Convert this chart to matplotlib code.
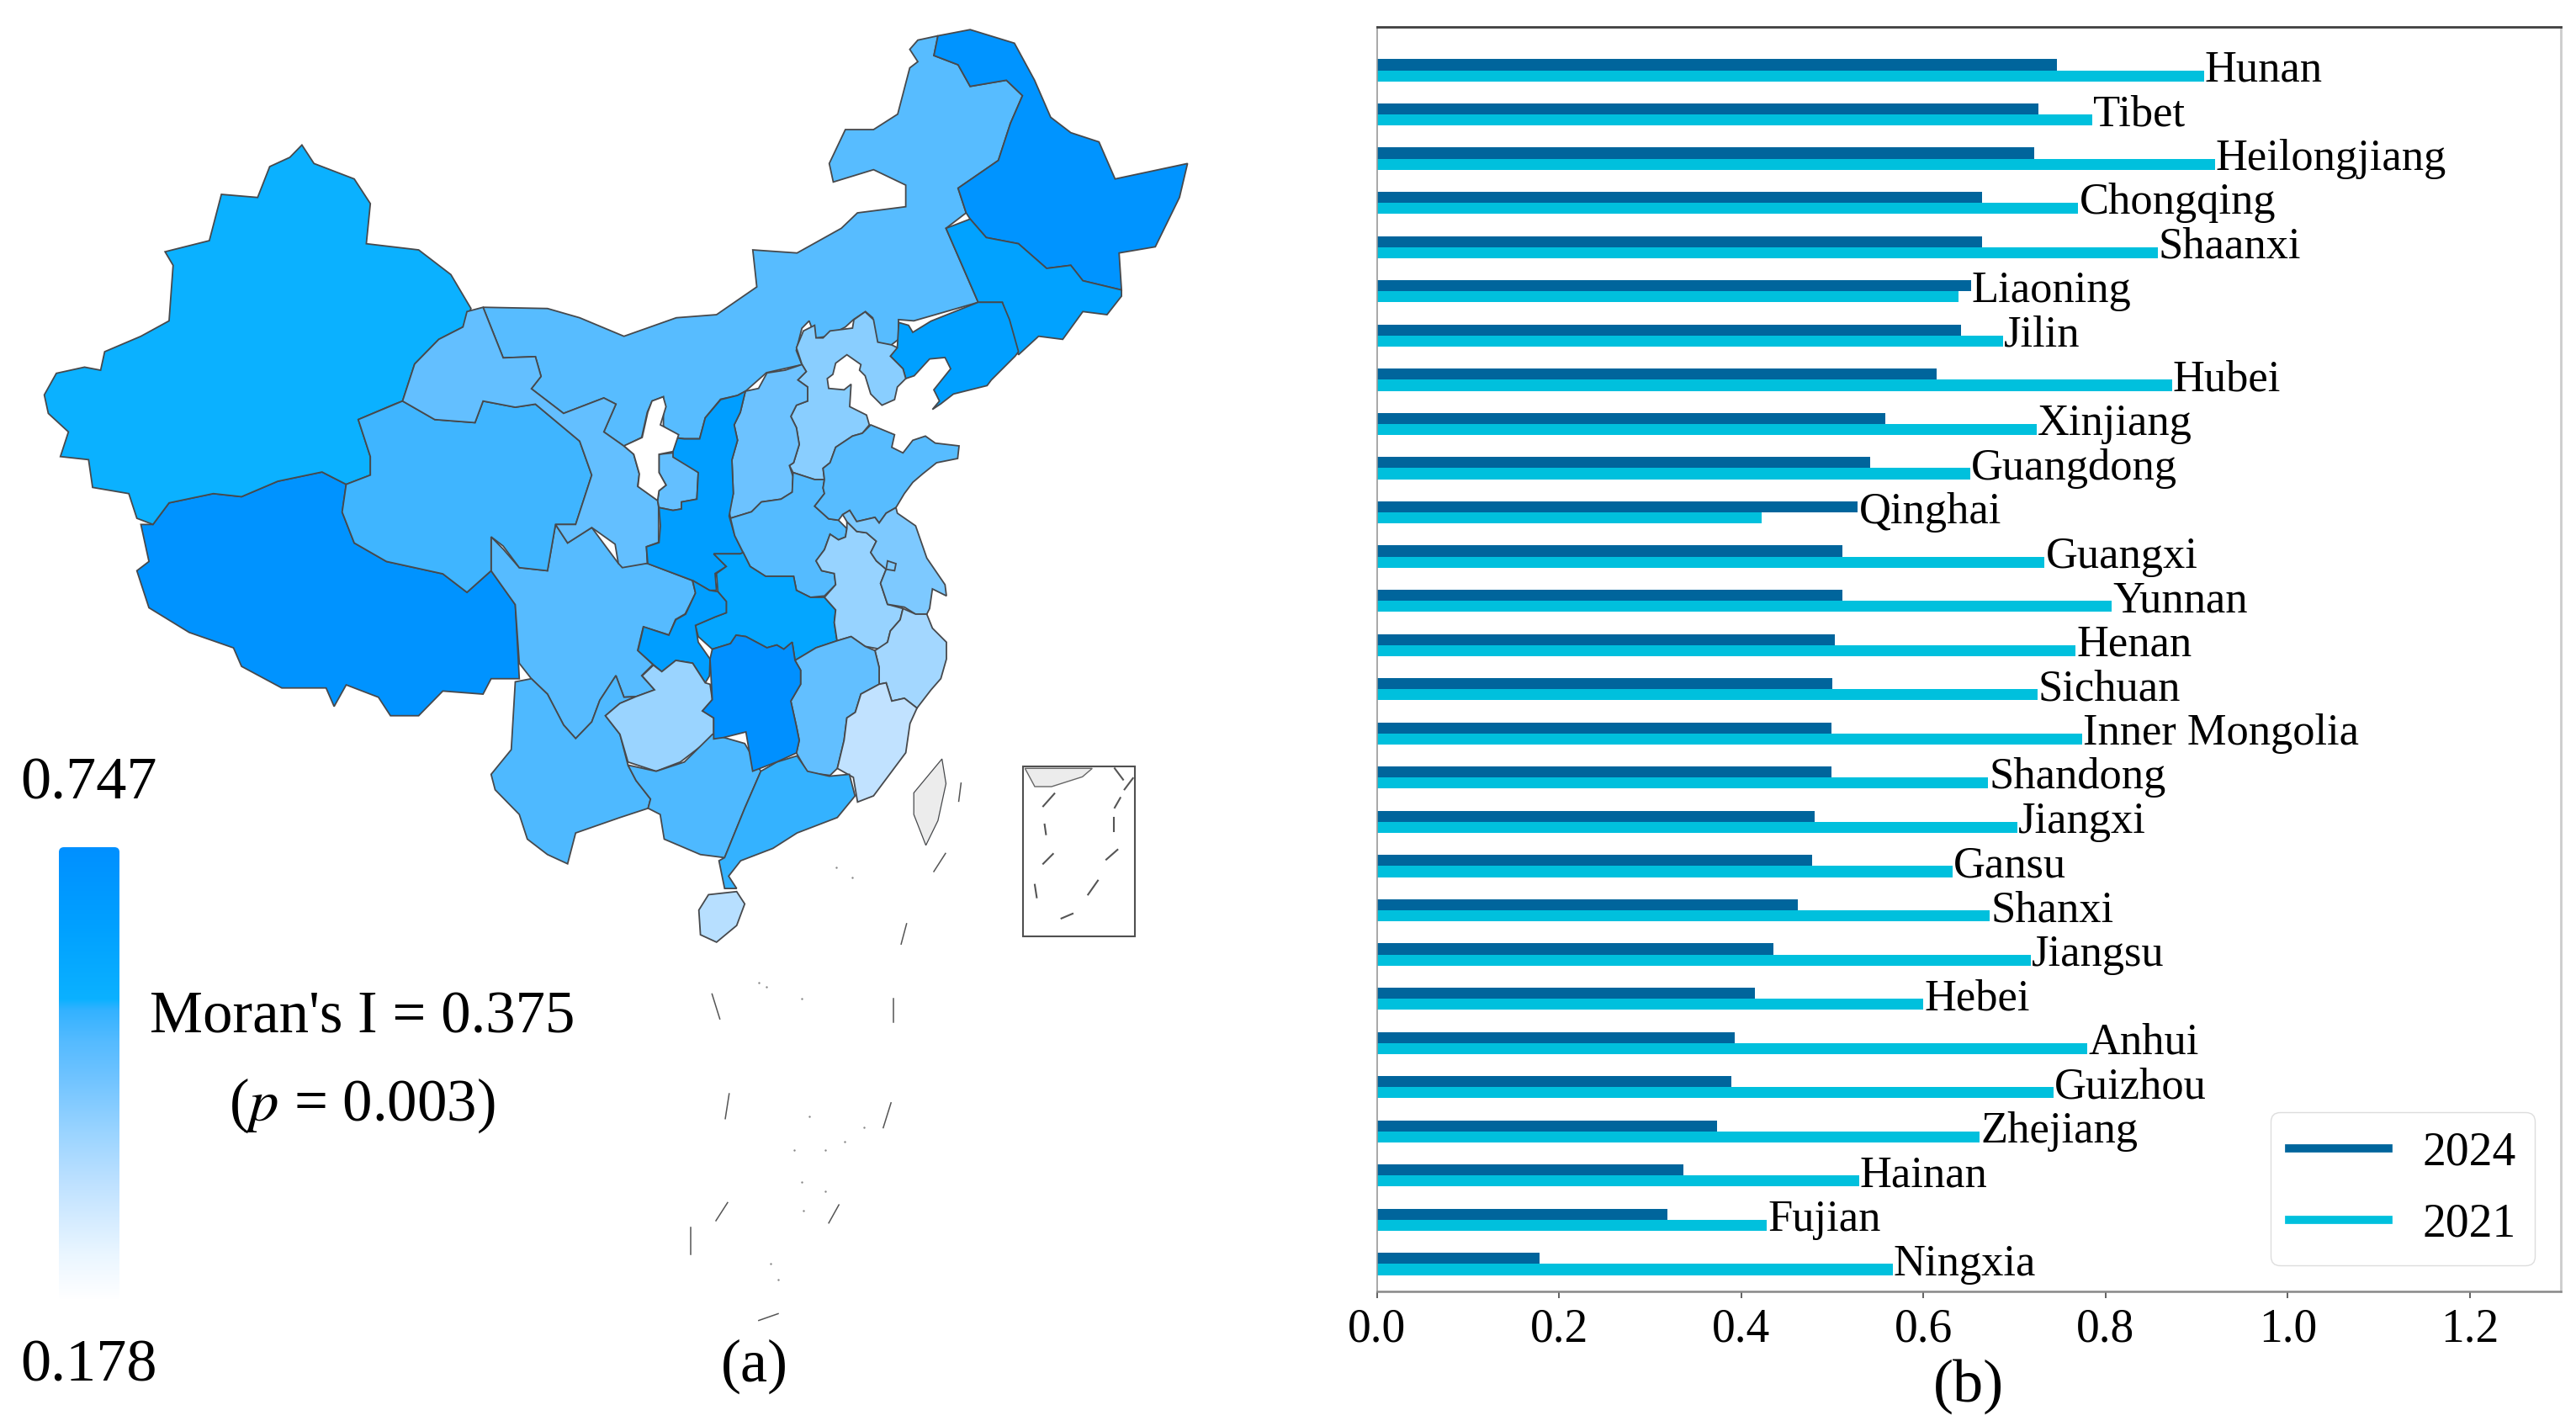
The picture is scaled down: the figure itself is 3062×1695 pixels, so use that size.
import matplotlib
matplotlib.use("Agg")
import matplotlib.pyplot as plt
import numpy as np
from matplotlib.colors import LinearSegmentedColormap, Normalize
from matplotlib.lines import Line2D
from matplotlib.patches import FancyBboxPatch

plt.rcParams['font.family'] = ['Liberation Serif', 'DejaVu Serif']
plt.rcParams['mathtext.fontset'] = 'stix'

W, H = 3062, 1695

# ---- chart data -------------------------------------------------------------
provinces = ["Hunan", "Tibet", "Heilongjiang", "Chongqing", "Shaanxi", "Liaoning", "Jilin",
             "Hubei", "Xinjiang", "Guangdong", "Qinghai", "Guangxi", "Yunnan", "Henan",
             "Sichuan", "Inner Mongolia", "Shandong", "Jiangxi", "Gansu", "Shanxi",
             "Jiangsu", "Hebei", "Anhui", "Guizhou", "Zhejiang", "Hainan", "Fujian", "Ningxia"]
values_2024 = [0.747, 0.726, 0.722, 0.664, 0.664, 0.652, 0.641, 0.614, 0.558, 0.541, 0.528, 0.511,
               0.511, 0.503, 0.500, 0.499, 0.499, 0.480, 0.478, 0.462, 0.435, 0.415, 0.393, 0.389,
               0.373, 0.336, 0.319, 0.178]
values_2021 = [0.908, 0.785, 0.920, 0.770, 0.857, 0.638, 0.687, 0.873, 0.724, 0.651, 0.422, 0.733,
               0.807, 0.767, 0.725, 0.774, 0.671, 0.703, 0.632, 0.673, 0.718, 0.600, 0.780, 0.743,
               0.662, 0.529, 0.428, 0.566]
xticks = [0.0, 0.2, 0.4, 0.6, 0.8, 1.0, 1.2]
cbar_min, cbar_max = 0.178, 0.747
cbar_stops = [(0.0, "#ffffff"), (0.10, "#eaf6ff"), (0.25, "#c0e2ff"), (0.37, "#9ad4ff"),
              (0.50, "#6cc2ff"), (0.57, "#55bbff"), (0.64, "#33b2ff"), (0.665, "#0bb1ff"),
              (0.83, "#00a0ff"), (1.0, "#0090ff")]

# ---- map outlines (two reading scales) --------------------------------------
def z1(pts):
    return [(0.957 * x, 0.7334 * y) for x, y in pts]
def z5(pts):
    return [(720 + x / 3, 380 + y / 3) for x, y in pts]
def z2(pts):
    return [(0.925 * x, 850 + 0.539 * y) for x, y in pts]
def z8(pts):
    return [(1180 + x / 3, 880 + y / 3) for x, y in pts]

xinjiang = z1([(375,235),(390,265),(440,290),(460,330),(455,395),(520,405),(560,445),(585,500),(575,530),(545,550),(515,590),(500,650),(490,655),(445,680),(460,740),(460,770),(430,785),(400,765),(345,780),(300,805),(265,800),(210,815),(190,850),(170,840),(160,800),(115,790),(110,745),(75,740),(85,700),(60,670),(55,640),(70,605),(105,595),(125,600),(130,570),(175,545),(210,520),(215,430),(205,408),(260,390),(275,315),(320,320),(335,270),(360,255)])
tibet = z1([(210,815),(265,800),(300,805),(345,780),(400,765),(430,785),(425,830),(440,880),(480,910),(550,930),(580,960),(610,925),(640,980),(645,1100),(610,1100),(600,1125),(550,1120),(520,1160),(485,1160),(470,1130),(430,1110),(415,1145),(405,1115),(350,1115),(300,1080),(290,1050),(235,1025),(185,985),(170,925),(185,910),(175,850),(190,850)])
qinghai = z1([(445,680),(500,650),(540,680),(590,685),(600,650),(640,660),(665,655),(720,715),(735,770),(720,830),(715,850),(690,850),(680,925),(645,920),(625,885),(610,870),(610,925),(580,960),(550,930),(480,910),(440,880),(425,830),(430,785),(460,770),(460,740)])
gansu = z1([(580,505),(600,498),(625,580),(665,578),(672,610),(660,630),(700,670),(750,645),(765,655),(750,700),(775,723),(787,736),(794,768),(792,788),(817,811),(818,822),(818,879),(803,886),(804,913),(773,920),(768,913),(764,882),(735,855),(705,880),(690,850),(715,850),(720,830),(735,770),(720,715),(665,655),(640,660),(600,650),(590,685),(540,680),(500,650),(515,590),(545,550),(575,530)])
gansu_east = z5([(240,475),(330,545),(325,640),(270,650),(270,675),(240,680),(190,670),(185,645),(190,610),(215,590),(190,545),(190,480)])
inner_mongolia = z1([(1140,65),(1165,58),(1160,90),(1190,105),(1205,140),(1250,130),(1270,155),(1255,200),(1240,260),(1190,305),(1200,345),(1175,370),(1195,430),(1215,490),(1135,520),(1116,518),(1116,550),(1107,559),(1088,557),(1084,515),(1075,505),(1060,518),(1050,530),(1028,545),(1013,548),(1005,520),(996,532),(989,568),(996,591),(952,604),(926,634),(916,641),(895,647),(876,677),(869,711),(850,711),(836,709),(824,690),(824,643),(810,650),(804,668),(797,709),(775,723),(750,700),(765,655),(750,645),(700,670),(660,630),(672,610),(665,578),(625,580),(600,498),(680,500),(720,515),(775,545),(840,515),(890,510),(940,465),(935,405),(990,410),(1045,370),(1065,345),(1125,335),(1125,300),(1085,275),(1035,295),(1030,265),(1050,210),(1085,210),(1115,185),(1130,110),(1140,100),(1130,80)])
heilongjiang = z1([(1165,58),(1205,48),(1260,70),(1285,130),(1305,190),(1330,215),(1365,230),(1385,290),(1475,265),(1465,320),(1435,400),(1390,410),(1393,470),(1345,455),(1330,430),(1300,435),(1265,395),(1225,385),(1205,355),(1200,345),(1190,305),(1240,260),(1255,200),(1270,155),(1250,130),(1205,140),(1190,105),(1160,90)])
jilin = z1([(1175,370),(1205,355),(1225,385),(1265,395),(1300,435),(1330,430),(1345,455),(1393,470),(1393,480),(1375,510),(1345,505),(1320,550),(1290,545),(1265,575),(1245,490),(1215,490),(1195,430)])
liaoning = z5([(1070,210),(1060,175),(1015,130),(1040,95),(1045,10),(1080,20),(1095,45),(1160,5),(1328,-62),(1414,-62),(1440,0),(1472,114),(1460,130),(1375,215),(1360,235),(1240,265),(1195,300),(1165,320),(1190,290),(1170,250),(1230,175),(1210,135),(1155,140),(1100,200)])
hebei = z5([(680,100),(705,40),(745,20),(750,65),(775,65),(800,40),(880,30),(885,0),(925,-28),(955,0),(970,80),(1020,90),(1040,100),(1015,130),(1060,175),(1070,210),(1040,240),(1030,285),(985,305),(945,265),(925,200),(905,180),(910,160),(860,125),(820,155),(810,195),(790,210),(795,245),(850,250),(875,230),(870,310),(930,340),(940,375),(915,405),(880,415),(820,455),(800,510),(775,530),(780,570),(745,570),(668,545),(655,520),(670,510),(690,445),(680,385),(660,345),(680,305),(720,290),(720,240),(685,215),(715,185),(700,160)])
shanxi = z5([(498,255),(545,245),(575,190),(640,180),(700,160),(715,185),(685,215),(720,240),(720,290),(680,305),(660,345),(680,385),(690,445),(670,510),(655,520),(668,560),(665,615),(625,640),(555,650),(520,685),(445,708),(440,680),(455,620),(450,500),(470,430),(458,375),(480,330)])
shaanxi = z5([(498,255),(480,330),(458,375),(470,430),(450,500),(455,620),(440,700),(460,770),(490,830),(480,835),(385,835),(430,880),(390,905),(395,965),(370,965),(310,930),(230,900),(150,870),(145,810),(190,795),(195,735),(190,670),(240,680),(270,675),(270,650),(325,640),(330,545),(240,490),(240,420),(280,425),(335,425),(355,350),(410,285),(470,270)])
ningxia = z5([(205,275),(215,310),(195,375),(260,410),(240,470),(190,480),(190,545),(215,590),(190,610),(185,645),(115,595),(120,550),(100,480),(65,450),(130,420),(150,330),(165,290)])
shandong = z5([(945,375),(1030,410),(1020,455),(1060,475),(1095,430),(1140,415),(1175,440),(1260,450),(1255,495),(1180,510),(1130,550),(1095,580),(1065,620),(1035,670),(1000,690),(975,725),(960,705),(895,720),(870,680),(845,695),(830,715),(795,710),(745,665),(780,620),(775,600),(780,570),(775,530),(800,510),(820,455),(880,415),(915,405)])
henan = z5([(668,545),(745,570),(780,570),(775,600),(780,620),(745,665),(795,710),(830,715),(860,745),(855,775),(830,785),(800,765),(780,820),(750,860),(770,895),(815,905),(820,945),(780,985),(730,990),(680,965),(670,915),(570,915),(515,880),(490,830),(460,770),(445,708),(520,685),(555,650),(625,640),(665,615)])
hubei = z5([(385,835),(480,835),(490,830),(515,880),(570,915),(670,915),(680,965),(730,990),(780,990),(820,1035),(815,1080),(825,1145),(750,1170),(675,1215),(665,1150),(635,1175),(610,1160),(575,1170),(500,1130),(465,1125),(445,1155),(380,1175),(330,1130),(320,1090),(390,1060),(430,1045),(430,1005),(400,970),(395,905),(430,880)])
chongqing = z5([(310,930),(320,975),(285,1050),(250,1070),(225,1125),(135,1095),(115,1180),(170,1230),(200,1255),(250,1215),(310,1225),(355,1295),(370,1270),(372,1210),(330,1150),(320,1090),(390,1060),(430,1045),(430,1005),(400,970),(370,965)])
jiangsu = z5([(845,695),(870,680),(895,720),(960,705),(975,725),(1000,690),(1035,670),(1040,690),(1105,735),(1145,850),(1210,945),(1215,985),(1165,960),(1155,1030),(1145,1050),(1105,1050),(1065,1025),(1005,1015),(980,940),(1000,890),(965,860),(945,830),(965,790),(930,760),(895,755),(860,720)])
jiangsu_loop = z5([(1005,860),(1035,870),(1030,895),(1000,890)])
anhui = z5([(860,720),(895,755),(930,760),(965,790),(945,830),(965,860),(1000,890),(980,940),(1005,1015),(1060,1030),(1050,1070),(1015,1110),(1005,1150),(980,1175),(925,1165),(875,1130),(825,1145),(815,1080),(820,1035),(780,990),(820,945),(815,905),(770,895),(750,860),(780,820),(800,765),(830,785),(855,775),(860,745)])
zhejiang = z5([(1060,1030),(1105,1050),(1145,1050),(1165,1100),(1215,1150),(1215,1210),(1195,1280),(1160,1320),(1110,1385),(1065,1350),(1020,1360),(1000,1295),(975,1300),(975,1240),(960,1180),(1005,1150),(1015,1110),(1050,1070)])
jiangxi = z5([(675,1215),(750,1170),(825,1145),(875,1130),(925,1165),(960,1180),(975,1240),(975,1300),(910,1335),(890,1400),(860,1420),(850,1500),(826,1600),(800,1625),(720,1615),(680,1545),(690,1500),(680,1450),(660,1360),(695,1300),(695,1250)])
fujian = z5([(975,1300),(1000,1295),(1020,1360),(1065,1350),(1110,1385),(1085,1440),(1070,1544),(955,1698),(898,1720),(883,1632),(826,1600),(850,1500),(860,1420),(890,1400),(910,1335)])
hunan = z5([(380,1175),(445,1155),(465,1125),(500,1130),(575,1170),(610,1160),(635,1175),(665,1150),(675,1215),(695,1250),(695,1300),(660,1360),(680,1450),(690,1500),(680,1545),(610,1577),(524,1610),(500,1470),(420,1490),(385,1495),(385,1420),(345,1395),(380,1355),(372,1210)])
guizhou = z5([(130,1270),(170,1232),(200,1255),(250,1215),(310,1225),(355,1295),(372,1300),(380,1355),(345,1395),(385,1420),(385,1495)]) + z1([(875,1205),(845,1235),(815,1250),(780,1235),(770,1190),(752,1160),(770,1140),(790,1129),(813,1118)])
guangxi = z1([(780,1240),(815,1250),(850,1235),(885,1190),(925,1205),(945,1250),(925,1310),(900,1390),(870,1385),(825,1360),(820,1320),(805,1310),(808,1295),(790,1265)])
guangdong = z1([(945,1250),(965,1235),(990,1225),(1003,1250),(1030,1258),(1055,1255),(1062,1290),(1040,1325),(990,1350),(960,1375),(920,1395),(905,1420),(915,1440),(900,1440),(893,1395),(900,1390),(925,1310)])
hainan = z1([(880,1450),(915,1445),(925,1465),(915,1500),(890,1527),(870,1515),(868,1475)])
yunnan = z1([(640,1105),(660,1100),(680,1125),(700,1175),(715,1197),(735,1170),(745,1135),(765,1095),(775,1130),(790,1129),(770,1140),(752,1160),(770,1190),(780,1240),(790,1265),(808,1295),(805,1310),(770,1325),(715,1350),(705,1400),(680,1385),(655,1360),(645,1320),(615,1280),(610,1255),(635,1215)])
sichuan = z1([(610,870),(625,890),(645,920),(680,925),(690,850),(705,880),(735,855),(768,913),(804,913),(860,941),(864,961),(851,995),(839,1004),(831,1029),(799,1016),(792,1054),(811,1077),(797,1095),(813,1118),(790,1129),(775,1130),(765,1095),(745,1135),(735,1170),(715,1197),(700,1175),(680,1125),(660,1100),(645,1075),(640,980),(610,925)])

province_shapes = {
    "Tibet": [tibet], "Xinjiang": [xinjiang], "Sichuan": [sichuan], "Qinghai": [qinghai],
    "Inner Mongolia": [inner_mongolia], "Gansu": [gansu, gansu_east], "Heilongjiang": [heilongjiang],
    "Jilin": [jilin], "Liaoning": [liaoning], "Hebei": [hebei], "Shanxi": [shanxi], "Shaanxi": [shaanxi],
    "Henan": [henan], "Shandong": [shandong], "Hubei": [hubei], "Chongqing": [chongqing],
    "Anhui": [anhui], "Jiangsu": [jiangsu, jiangsu_loop], "Zhejiang": [zhejiang], "Jiangxi": [jiangxi],
    "Fujian": [fujian], "Yunnan": [yunnan], "Guizhou": [guizhou], "Guangxi": [guangxi],
    "Guangdong": [guangdong], "Hunan": [hunan], "Hainan": [hainan], "Ningxia": [ningxia],
}
taiwan = z1([(1170,1230),(1175,1270),(1165,1330),(1150,1370),(1135,1320),(1135,1285)])
sea_dashes = [z2(s) for s in [[(915,615),(925,670)], [(1148,625),(1148,678)], [(937,835),(932,890)],
              [(1145,855),(1135,910)], [(935,1075),(920,1115)], [(1078,1080),(1065,1120)],
              [(888,1130),(888,1190)], [(1000,1320),(975,1335)], [(1165,460),(1158,505)],
              [(1215,305),(1200,345)], [(1235,150),(1232,190)]]]
sea_dots = z2([(975,590),(985,600),(1030,625),(1040,885),(1020,960),(1060,960),(1085,940),(1110,910),
               (1030,1030),(1060,1050),(990,1210),(1000,1245),(1095,358),(1075,335),(1032,1092)])
inset_box = z8([(108,92),(508,92),(508,700),(108,700)])
inset_land = z8([(115,100),(355,100),(320,130),(210,165),(150,165)])
inset_dashes = [z8(s) for s in [[(180,235),(220,190)], [(185,300),(190,335)], [(180,440),(215,405)],
                [(150,515),(157,560)], [(245,635),(285,618)], [(340,550),(375,500)],
                [(405,425),(445,390)], [(432,275),(432,325)], [(435,240),(455,205)],
                [(470,175),(500,135)], [(435,100),(465,140)]]]

# ---- figure -------------------------------------------------------------------
fig = plt.figure(figsize=(W / 100, H / 100), dpi=100, facecolor='white')
bg = fig.add_axes([0, 0, 1, 1])
bg.set_xlim(0, W)
bg.set_ylim(H, 0)
bg.axis('off')

cmap = LinearSegmentedColormap.from_list("moran", cbar_stops, N=512)
norm = Normalize(cbar_min, cbar_max)
value_of = dict(zip(provinces, values_2024))

edge = "#47494c"
for name, parts in province_shapes.items():
    for part in parts:
        xs, ys = zip(*part)
        bg.fill(xs, ys, facecolor=cmap(norm(value_of[name])), edgecolor=edge, linewidth=1.3, zorder=2)

xs, ys = zip(*taiwan)
bg.fill(xs, ys, facecolor="#ececec", edgecolor=edge, linewidth=0.9, zorder=2)
for seg in sea_dashes:
    xs, ys = zip(*seg)
    bg.plot(xs, ys, color="#555555", lw=1.1, zorder=2)
xs, ys = zip(*sea_dots)
bg.scatter(xs, ys, s=3, color="#888888", linewidths=0, zorder=2)

xs, ys = zip(*inset_land)
bg.fill(xs, ys, facecolor="#ececec", edgecolor="#666666", linewidth=1.0, zorder=2)
xs, ys = zip(*inset_box)
bg.fill(xs, ys, facecolor='none', edgecolor="#505050", linewidth=1.5, zorder=3)
for seg in inset_dashes:
    xs, ys = zip(*seg)
    bg.plot(xs, ys, color="#555555", lw=1.5, zorder=3)

# colour bar
cb_left, cb_right, cb_top, cb_bottom = 70, 142, 1007, 1545
gradient = np.linspace(1, 0, 512).reshape(-1, 1)
im = bg.imshow(gradient, cmap=cmap, vmin=0, vmax=1, aspect='auto',
               extent=(cb_left, cb_right, cb_bottom, cb_top), zorder=2)
clip = FancyBboxPatch((cb_left + 6, cb_top + 6), cb_right - cb_left - 12, cb_bottom - cb_top - 12,
                      boxstyle="round,pad=6", transform=bg.transData, facecolor='none', edgecolor='none')
bg.add_patch(clip)
im.set_clip_path(clip)
bg.set_xlim(0, W)
bg.set_ylim(H, 0)

def label(x, y, s, size, ha='left'):
    bg.text(x, y, s, fontsize=size, ha=ha, va='baseline', color='black', zorder=5)

label(24, 950, f"{cbar_max:.3f}", 52)
label(24, 1642, f"{cbar_min:.3f}", 52)
label(178, 1227, "Moran's I = 0.375", 51)
label(430, 1332, "($\\mathit{p}$ = 0.003)", 51, ha='center')
label(897, 1642, "(a)", 52, ha='center')
label(2340, 1666, "(b)", 52, ha='center')

# ---- bar chart ------------------------------------------------------------------
ax = fig.add_axes([1637 / W, 1 - 1535 / H, (3044 - 1637) / W, (1535 - 32) / H], facecolor='none')
rows = np.arange(len(provinces))
bar_h = 0.25
color_2024, color_2021 = "#00659c", "#00c0dd"
ax.barh(rows - bar_h / 2, values_2024, height=bar_h, color=color_2024)
ax.barh(rows + bar_h / 2, values_2021, height=bar_h, color=color_2021)
for r, name, a, b in zip(rows, provinces, values_2024, values_2021):
    ax.text(max(a, b) + 0.001, r + 0.25, name, fontsize=37.8, ha='left', va='baseline', color='black')

ax.set_xlim(0, 1.30)
ax.set_ylim(27.62, -0.98)
ax.set_yticks([])
ax.set_xticks(xticks)
ax.set_xticklabels([f"{t:.1f}" for t in xticks], fontsize=40)
ax.tick_params(axis='x', length=6, width=1.3, color='#555555', pad=8)
ax.spines['top'].set(color='#404040', linewidth=2.0)
ax.spines['left'].set(color='#999999', linewidth=1.2)
ax.spines['right'].set(color='#cccccc', linewidth=2.0)
ax.spines['bottom'].set(color='#888888', linewidth=1.8)

handles = [Line2D([], [], color=color_2024, lw=7), Line2D([], [], color=color_2021, lw=7)]
leg = ax.legend(handles, ["2024", "2021"], fontsize=40, loc='lower right',
                bbox_to_anchor=((3013 - 1637) / (3044 - 1637), (1535 - 1504) / (1535 - 32)),
                borderaxespad=0, handlelength=2.12, handletextpad=0.73, borderpad=0.4,
                labelspacing=0.6, frameon=True, fancybox=True, edgecolor='#dddddd', framealpha=1)

fig.savefig("out.png", dpi=100, facecolor='white')
